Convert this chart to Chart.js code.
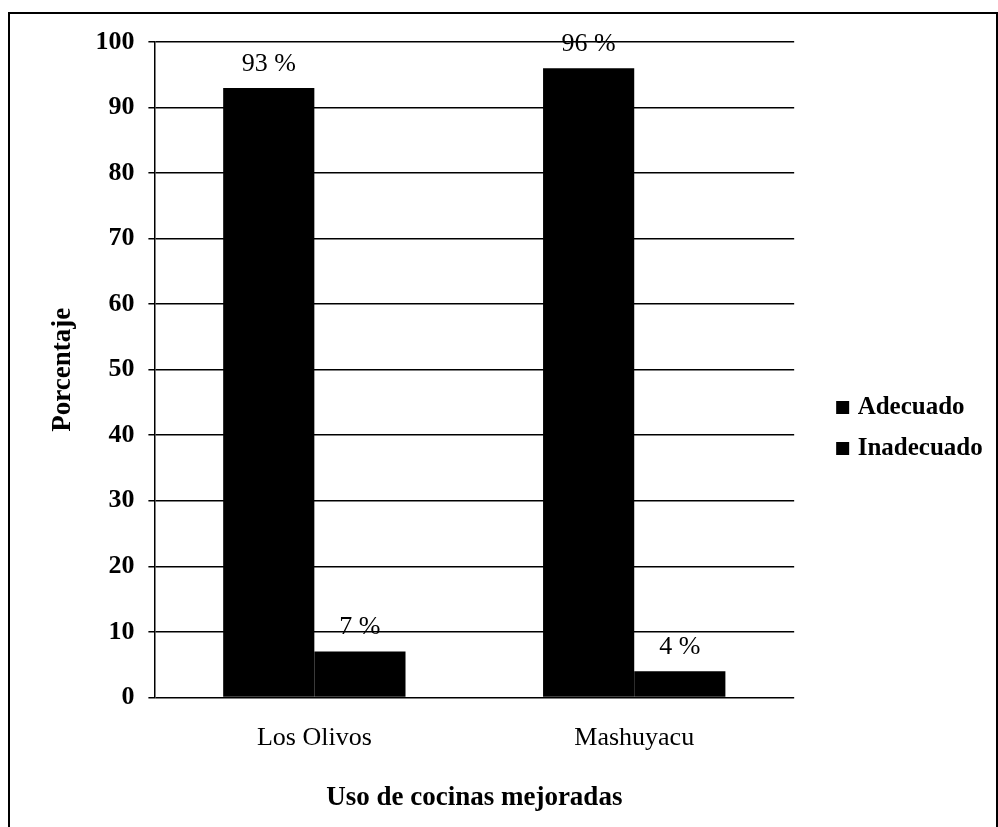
<!DOCTYPE html>
<html>
<head>
<meta charset="utf-8">
<script src="https://cdn.jsdelivr.net/npm/chart.js@4/dist/chart.umd.min.js"></script>
<style>
  html, body { margin: 0; padding: 0; background: #fff; overflow: hidden; }
  #marco {
    position: absolute; left: 8px; top: 12px; width: 986px; height: 830px;
    border: 2px solid #000;
  }
  #wrap { position: absolute; left: 0; top: 0; width: 998px; height: 827px; }
</style>
</head>
<body>
<div id="marco"></div>
<div id="wrap"><canvas id="cocinas" width="998" height="827"></canvas></div>
<script>
const categorias = ["Los Olivos", "Mashuyacu"];
const adecuado = [93, 96];
const inadecuado = [7, 4];
const ticksY = [0, 10, 20, 30, 40, 50, 60, 70, 80, 90, 100];

// etiquetas "93 %" encima de cada barra
const plugin_etiquetas = {
  id: "etiquetas",
  afterDatasetsDraw: (chart) => {
    const ctx = chart.ctx;
    ctx.save();
    ctx.font = "26px 'Liberation Serif'";
    ctx.fillStyle = "#000";
    ctx.textAlign = "center";
    ctx.textBaseline = "middle";
    chart.data.datasets.forEach((ds, i) => {
      const meta = chart.getDatasetMeta(i);
      meta.data.forEach((bar, j) => {
        ctx.fillText(ds.data[j] + " %", bar.x, bar.y - 24);
      });
    });
    ctx.restore();
  },
};

Chart.defaults.font.family = "'Liberation Serif', 'Times New Roman', serif";
Chart.defaults.font.size = 26;
Chart.defaults.color = "#000";

const ctx = document.getElementById("cocinas").getContext("2d");
const chart_cocinas = new Chart(ctx, {
  type: "bar",
  data: {
    labels: categorias,
    datasets: [
      {
        label: "Adecuado",
        data: adecuado,
        backgroundColor: "#000",
        borderWidth: 0,
        categoryPercentage: 0.57,
        barPercentage: 1.0,
      },
      {
        label: "Inadecuado",
        data: inadecuado,
        backgroundColor: "#000",
        borderWidth: 0,
        categoryPercentage: 0.57,
        barPercentage: 1.0,
      },
    ],
  },
  options: {
    responsive: false,
    animation: false,
    layout: {
      padding: { top: 42, left: 20, right: 13, bottom: 13 },
    },
    plugins: {
      legend: {
        position: "right",
        labels: {
          usePointStyle: true,
          pointStyle: "rect",
          boxWidth: 5,
          boxHeight: 13,
          padding: 16,
          font: { size: 25, weight: "bold" },
          color: "#000",
        },
      },
      tooltip: { enabled: false },
    },
    scales: {
      x: {
        grid: { display: false, drawTicks: false },
        border: { display: false },
        ticks: { padding: 25, font: { size: 26 } },
        title: {
          display: true,
          text: "Uso de cocinas mejoradas",
          font: { size: 27, weight: "bold" },
          padding: { top: 3, bottom: 0 },
        },
      },
      y: {
        min: 0,
        max: 100,
        afterBuildTicks: (scale) => {
          scale.ticks = ticksY.map((v) => ({ value: v }));
        },
        grid: {
          color: "#000",
          lineWidth: 1.5,
          tickLength: 6,
        },
        border: { display: true, color: "#000", width: 1.5 },
        ticks: { padding: 14, font: { size: 26, weight: "bold" } },
        title: {
          display: true,
          text: "Porcentaje",
          font: { size: 27, weight: "bold" },
          padding: { top: 27, bottom: 2 },
        },
      },
      espacio: {
        position: "right",
        display: true,
        grid: { display: false, drawTicks: false },
        border: { display: false },
        ticks: { display: false },
        afterFit: (scale) => {
          scale.width = 30;
        },
      },
    },
  },
  plugins: [plugin_etiquetas],
});
</script>
</body>
</html>
